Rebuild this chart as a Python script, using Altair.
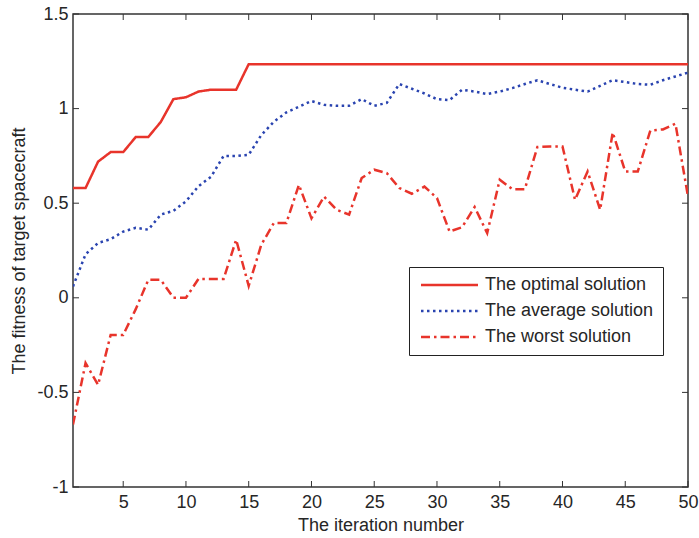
import altair as alt
import pandas as pd

iterations = list(range(1, 51))
optimal = [0.58, 0.58, 0.72, 0.77, 0.77, 0.85, 0.85, 0.93, 1.05, 1.06,
           1.09, 1.10, 1.10, 1.10, 1.235] + [1.235] * 35
average = [0.06, 0.23, 0.29, 0.31, 0.35, 0.37, 0.36, 0.44, 0.46, 0.51,
           0.59, 0.64, 0.75, 0.75, 0.756, 0.86, 0.93, 0.98, 1.01, 1.04,
           1.02, 1.015, 1.015, 1.05, 1.015, 1.03, 1.13, 1.105, 1.08, 1.05,
           1.045, 1.10, 1.09, 1.077, 1.09, 1.108, 1.13, 1.15, 1.13, 1.11,
           1.10, 1.09, 1.12, 1.15, 1.14, 1.13, 1.126, 1.15, 1.17, 1.19]
worst = [-0.67, -0.345, -0.46, -0.196, -0.196, -0.06, 0.095, 0.095, 0.0, 0.0,
         0.1, 0.1, 0.1, 0.307, 0.063, 0.28, 0.395, 0.395, 0.597, 0.42,
         0.535, 0.465, 0.44, 0.633, 0.677, 0.659, 0.58, 0.55, 0.588, 0.527,
         0.35, 0.373, 0.48, 0.342, 0.624, 0.574, 0.574, 0.797, 0.80, 0.80,
         0.518, 0.668, 0.465, 0.874, 0.668, 0.668, 0.884, 0.89, 0.92, 0.535]

series_names = ["The optimal solution", "The average solution", "The worst solution"]
series_colors = ["#e8342b", "#2a44b0", "#e8342b"]
series_dashes = [[1, 0], [2.5, 3.5], [9, 4, 2.5, 4]]

y_ticks = [-1, -0.5, 0, 0.5, 1, 1.5]
x_ticks = [5, 10, 15, 20, 25, 30, 35, 40, 45, 50]

rows = []
for name, vals in zip(series_names, [optimal, average, worst]):
    for i, v in zip(iterations, vals):
        rows.append({"iter": i, "value": v, "series": name})
df = pd.DataFrame(rows)

W, H = 615, 473
FONT = "Liberation Sans"
FS = 18

xscale = alt.Scale(domain=[1, 50], nice=False, zero=False)
yscale = alt.Scale(domain=[-1, 1.5], nice=False, zero=False)

legend = alt.Legend(title=None, orient="none", legendX=336, legendY=253,
                    symbolType="M-1.2,0L10.2,0", symbolSize=100,
                    symbolStrokeWidth=2.5, labelFontSize=FS,
                    labelFont=FONT, labelColor="#262626",
                    strokeColor="#222222", padding=9, rowPadding=8,
                    labelOffset=49, fillColor="#ffffff", labelLimit=400)

lines = alt.Chart(df).mark_line(strokeWidth=2.5, clip=True).encode(
    x=alt.X("iter:Q", scale=xscale,
            axis=alt.Axis(values=x_ticks, title="The iteration number", ticks=False,
                          grid=False, domain=False, labelPadding=6, titlePadding=5,
                          labelFlush=False)),
    y=alt.Y("value:Q", scale=yscale,
            axis=alt.Axis(values=y_ticks, title="The fitness of target spacecraft",
                          ticks=False, grid=False, domain=False, labelPadding=5,
                          labelExpr="'' + datum.value", titlePadding=8)),
    color=alt.Color("series:N", scale=alt.Scale(domain=series_names, range=series_colors),
                    sort=series_names, legend=legend),
    strokeDash=alt.StrokeDash("series:N",
                              scale=alt.Scale(domain=series_names, range=series_dashes),
                              sort=series_names, legend=legend),
)

ytick_df = pd.DataFrame({"v": y_ticks})
xtick_df = pd.DataFrame({"v": x_ticks})

TC = "#333333"
left_ticks = alt.Chart(ytick_df).mark_rule(color=TC, strokeWidth=1).encode(
    y=alt.Y("v:Q", scale=yscale), x=alt.value(0), x2=alt.value(6))
right_ticks = alt.Chart(ytick_df).mark_rule(color=TC, strokeWidth=1).encode(
    y=alt.Y("v:Q", scale=yscale), x=alt.value(W - 6), x2=alt.value(W))
bottom_ticks = alt.Chart(xtick_df).mark_rule(color=TC, strokeWidth=1).encode(
    x=alt.X("v:Q", scale=xscale), y=alt.value(H - 6), y2=alt.value(H))
top_ticks = alt.Chart(xtick_df).mark_rule(color=TC, strokeWidth=1).encode(
    x=alt.X("v:Q", scale=xscale), y=alt.value(0), y2=alt.value(6))

chart = alt.layer(lines, left_ticks, right_ticks, bottom_ticks, top_ticks).properties(
    width=W, height=H,
    autosize=alt.AutoSizeParams(type="none"),
    padding={"left": 73, "top": 14, "right": 11, "bottom": 51},
).configure_view(
    stroke="#333333", strokeWidth=1.5
).configure_axis(
    labelFont=FONT, titleFont=FONT, labelFontSize=FS, titleFontSize=FS,
    labelColor="#262626", titleColor="#262626", titleFontWeight="normal"
)

chart.save("out.html", embed_options={"renderer": "svg", "actions": False})
